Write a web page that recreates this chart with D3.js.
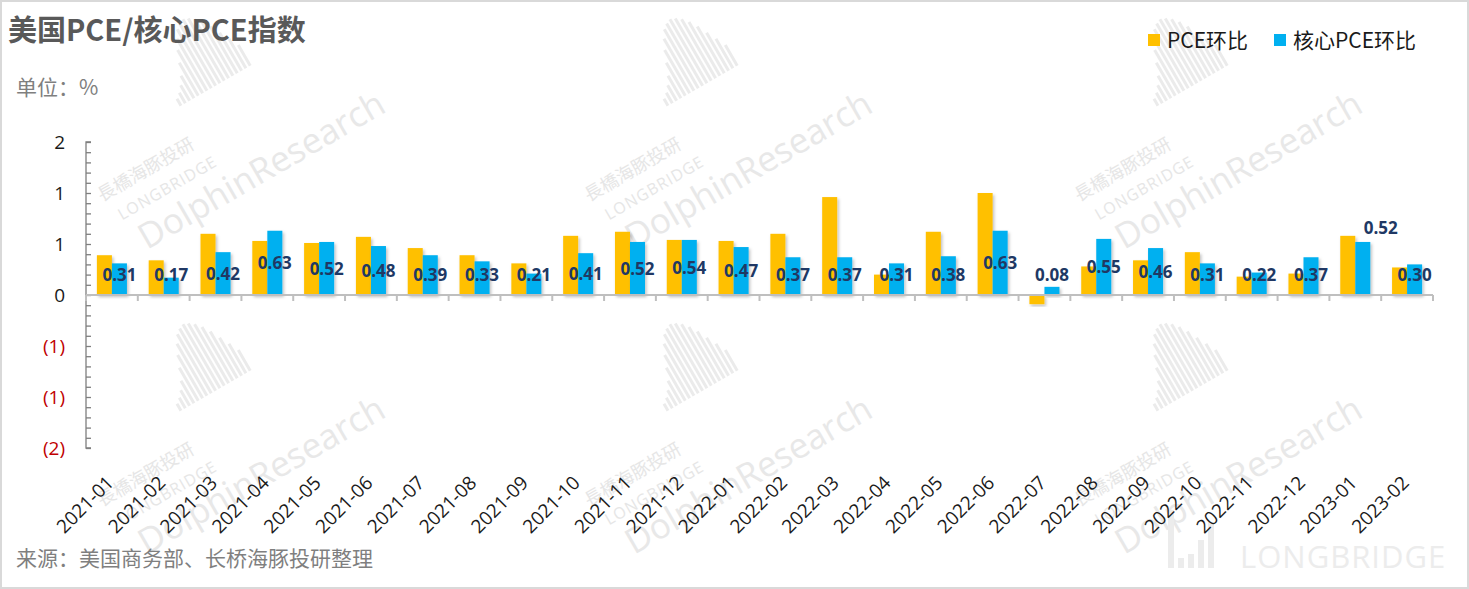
<!DOCTYPE html>
<html><head><meta charset="utf-8">
<script src="https://cdn.jsdelivr.net/npm/d3@7"></script>
<style>
html,body{margin:0;padding:0;background:#fff;}
svg{display:block;font-family:"Open Sans","Noto Sans CJK SC",sans-serif;}
</style></head>
<body><svg id="c" width="1469" height="589"></svg>
<script>
const categories = ["2021-01","2021-02","2021-03","2021-04","2021-05","2021-06","2021-07","2021-08","2021-09","2021-10","2021-11","2021-12","2022-01","2022-02","2022-03","2022-04","2022-05","2022-06","2022-07","2022-08","2022-09","2022-10","2022-11","2022-12","2023-01","2023-02"];
const pce  = [0.39,0.34,0.60,0.53,0.51,0.57,0.46,0.39,0.31,0.58,0.62,0.54,0.53,0.60,0.96,0.20,0.62,1.00,-0.09,0.28,0.34,0.42,0.18,0.21,0.58,0.27];
const core = [0.31,0.17,0.42,0.63,0.52,0.48,0.39,0.33,0.21,0.41,0.52,0.54,0.47,0.37,0.37,0.31,0.38,0.63,0.08,0.55,0.46,0.31,0.22,0.37,0.52,0.30];
const yTicks = [-1.5,-1.0,-0.5,0,0.5,1.0,1.5];
const seriesNames = ["PCE环比","核心PCE环比"];
const colors = ["#FFC000","#00B0F0"];

const svg = d3.select("#c");
const W = 1469, H = 589;
const CJK = "'Noto Sans CJK SC',sans-serif";

// border
svg.append("rect").attr("x",1).attr("y",1).attr("width",W-2).attr("height",H-2)
  .attr("fill","#fff").attr("stroke","#d9d9d9").attr("stroke-width",2);

// watermarks
const wm = svg.append("g").attr("pointer-events","none");
[[225,175],[712,175],[1202,175],[225,480],[712,480],[1202,480]].forEach(([cx,cy])=>{
  const g = wm.append("g").attr("transform",`translate(${cx},${cy}) rotate(-30)`);
  const hs=[8,12,18,26,38,50,60,68,72,74,72,68,62,54,44,34,24];
  hs.forEach((h,i)=>g.append("rect").attr("x",-5+i*5).attr("y",-82-h).attr("width",3).attr("height",h).attr("fill","#ebebeb"));
  g.append("text").attr("x",-120).attr("y",-38).attr("font-size",18).attr("fill","#e6e6e6").attr("font-family",CJK).text("長橋海豚投研");
  g.append("text").attr("x",-112).attr("y",-12).attr("font-size",16).attr("fill","#e6e6e6").attr("letter-spacing",1).text("LONGBRIDGE");
  g.append("text").attr("x",-105).attr("y",26).attr("font-size",35).attr("fill","#e8e8e8").text("DolphinResearch");
});
const lb = wm.append("g");
[0,1,2,3,4].forEach(i=>{
  const hh=[58,10,14,28,46][i];
  lb.append("rect").attr("x",1168+i*10).attr("y",568-hh).attr("width",6).attr("height",hh).attr("fill","#ececec");
});
lb.append("text").attr("x",1240).attr("y",568).attr("font-size",31).attr("fill","#ececec").attr("letter-spacing",1).text("LONGBRIDGE");

// title etc.
svg.append("text").attr("x",8).attr("y",41).attr("font-size",29).attr("font-weight","bold")
  .attr("fill","#595959").attr("font-family",CJK).text("美国PCE/核心PCE指数");
svg.append("text").attr("x",16).attr("y",95).attr("font-size",21)
  .attr("fill","#7f7f7f").attr("font-family",CJK).text("单位：%");
svg.append("text").attr("x",16).attr("y",566).attr("font-size",21)
  .attr("fill","#7f7f7f").attr("font-family",CJK).text("来源：美国商务部、长桥海豚投研整理");

// legend
const leg = svg.append("g");
const legX = [1148,1274];
seriesNames.forEach((n,i)=>{
  leg.append("rect").attr("x",legX[i]).attr("y",34).attr("width",12).attr("height",12).attr("fill",colors[i]);
  leg.append("text").attr("x",legX[i]+19).attr("y",48).attr("font-size",21).attr("fill","#1a1a1a")
    .attr("font-family",CJK).text(n);
});

// scales
const x0 = 86, x1 = 1433;
const y = d3.scaleLinear().domain([-1.5,1.5]).range([448,142]);
const x = d3.scaleBand().domain(categories).range([x0,x1]).paddingInner(0.42).paddingOuter(0.21);
const xs = d3.scaleBand().domain([0,1]).range([0,x.bandwidth()]);

// shadow filter
const defs = svg.append("defs");
const f = defs.append("filter").attr("id","sh").attr("x","-30%").attr("y","-30%").attr("width","160%").attr("height","160%");
f.append("feDropShadow").attr("dx",1.5).attr("dy",2).attr("stdDeviation",1.5).attr("flood-color","#000").attr("flood-opacity",0.25);

// y axis
const minorTicks = d3.range(-15,16).map(d=>d/10);
const yAxis = d3.axisRight(y).tickValues(minorTicks).tickSize(5).tickFormat("");
const ga = svg.append("g").attr("transform",`translate(${x0},0)`).call(yAxis);
ga.selectAll("path,line").attr("stroke","#7f7f7f").attr("stroke-width",1.3);
ga.select(".domain").attr("d",`M5,${y(1.5)}H0V${y(-1.5)}H5`);

svg.append("g").selectAll("text").data(yTicks).join("text")
  .attr("x",65).attr("y",d=>y(d)).attr("dy","0.36em").attr("text-anchor","end")
  .attr("font-size",19).attr("font-family","'Open Sans',sans-serif")
  .attr("fill",d=>d<0?"#c00000":"#1a1a1a")
  .text(d=>{const r=Math.round(Math.abs(d)+1e-9); return d<0?`(${r})`:`${r}`;});

// bars
const series = [pce, core];
const gb = svg.append("g");
series.forEach((vals,si)=>{
  gb.append("g").selectAll("rect").data(vals).join("rect")
    .attr("x",(d,i)=>x(categories[i])+xs(si))
    .attr("width",xs.bandwidth())
    .attr("y",d=>y(Math.max(0,d)))
    .attr("height",d=>Math.abs(y(d)-y(0)))
    .attr("fill",colors[si]).attr("filter","url(#sh)");
});

// x axis
const xAxis = d3.axisBottom(x).tickSize(0).tickFormat("");
const gx = svg.append("g").attr("transform",`translate(0,${y(0)})`).call(xAxis);
gx.select(".domain").attr("stroke","#bfbfbf").attr("stroke-width",2).attr("d",`M${x0},0H${x1}`);
const bounds = d3.range(categories.length+1).map(i=>x0+i*x.step());
gx.selectAll(".bt").data(bounds).join("line").attr("class","bt")
  .attr("x1",d=>d).attr("x2",d=>d).attr("y1",0).attr("y2",6).attr("stroke","#bfbfbf").attr("stroke-width",2);

// x labels (low position)
svg.append("g").selectAll("text").data(categories).join("text")
  .attr("transform",d=>`translate(${x(d)+x.bandwidth()/2+3},${484}) rotate(-45)`)
  .attr("text-anchor","end").attr("font-size",19).attr("fill","#1a1a1a")
  .attr("font-family","'Open Sans',sans-serif").text(d=>d);

// core labels
const labelAbove = {"2023-01":18};
svg.append("g").selectAll("text").data(core).join("text")
  .attr("x",(d,i)=>x(categories[i])+xs(1)+xs.bandwidth()/2+(labelAbove[categories[i]]!==undefined?labelAbove[categories[i]]:0))
  .attr("y",(d,i)=>labelAbove[categories[i]]!==undefined ? y(d)-14 : y(Math.max(d/2,0.2)))
  .attr("dy","0.36em").attr("text-anchor","middle")
  .attr("font-size",17).attr("font-weight","bold").attr("fill","#203864")
  .attr("font-family","'Open Sans',sans-serif")
  .text(d=>d.toFixed(2));
</script></body></html>
